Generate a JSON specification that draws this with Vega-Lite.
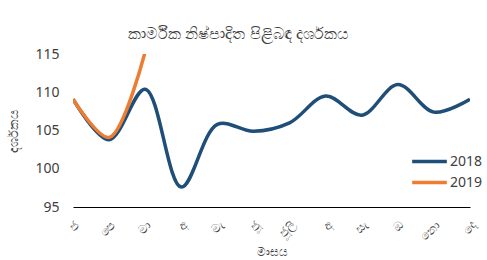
{
  "$schema": "https://vega.github.io/schema/vega-lite/v6.json",
  "width": 397,
  "height": 153,
  "autosize": {"type": "none"},
  "padding": {"left": 73, "top": 54, "right": 17, "bottom": 53},
  "background": "white",
  "title": {
    "text": "කාර්මික නිෂ්පාදිත පිළිබඳ දර්ශකය",
    "fontSize": 16,
    "fontWeight": "normal",
    "color": "#404040",
    "anchor": "middle",
    "dx": -33,
    "offset": 5
  },
  "config": {
    "view": {"stroke": null},
    "font": "Noto Sans",
    "axis": {"grid": false, "ticks": false}
  },
  "data": {
    "values": [
      {"month": "ජ", "m": 1, "year": "2018", "value": 109.1},
      {"month": "පෙ", "m": 2, "year": "2018", "value": 103.8},
      {"month": "මා", "m": 3, "year": "2018", "value": 110.4},
      {"month": "අ", "m": 4, "year": "2018", "value": 97.6},
      {"month": "මැ", "m": 5, "year": "2018", "value": 105.8},
      {"month": "ජූ", "m": 6, "year": "2018", "value": 104.9},
      {"month": "ජූලි", "m": 7, "year": "2018", "value": 106.0},
      {"month": "අ ", "m": 8, "year": "2018", "value": 109.5},
      {"month": "සැ", "m": 9, "year": "2018", "value": 107.0},
      {"month": "ඔ", "m": 10, "year": "2018", "value": 111.0},
      {"month": "නො", "m": 11, "year": "2018", "value": 107.4},
      {"month": "දෙ", "m": 12, "year": "2018", "value": 109.1},
      {"month": "ජ", "m": 1, "year": "2019", "value": 109.1},
      {"month": "පෙ", "m": 2, "year": "2019", "value": 104.1},
      {"month": "මා", "m": 3, "year": "2019", "value": 115.3}
    ]
  },
  "mark": {"type": "line", "interpolate": "catmull-rom", "strokeWidth": 3.5, "clip": true},
  "encoding": {
    "x": {
      "field": "month",
      "type": "ordinal",
      "sort": {"field": "m"},
      "scale": {"type": "point", "padding": 0},
      "axis": {
        "title": "මාසය",
        "titleFontSize": 12,
        "titleFontWeight": "normal",
        "titleColor": "#404040",
        "labelAngle": -45,
        "labelFontSize": 12,
        "labelColor": "#404040",
        "domainColor": "#000000",
        "labelPadding": 12,
        "titlePadding": 4
      }
    },
    "y": {
      "field": "value",
      "type": "quantitative",
      "scale": {"domain": [95, 115], "nice": false, "zero": false},
      "axis": {
        "title": "දර්ශකය",
        "titleFontSize": 12.5,
        "titleFontWeight": "normal",
        "titleColor": "#404040",
        "values": [95, 100, 105, 110, 115],
        "labelFontSize": 14,
        "labelColor": "#404040",
        "domain": false,
        "labelPadding": 14,
        "titlePadding": 14
      }
    },
    "color": {
      "field": "year",
      "type": "nominal",
      "scale": {"domain": ["2018", "2019"], "range": ["#1F4E79", "#ED7D31"]},
      "legend": {
        "title": null,
        "orient": "none",
        "legendX": 346,
        "legendY": 97,
        "symbolType": "M-2,0H2",
        "symbolSize": 300,
        "symbolStrokeWidth": 3.5,
        "labelFontSize": 14,
        "labelColor": "#404040",
        "labelOffset": 10,
        "rowPadding": 3
      }
    }
  }
}
